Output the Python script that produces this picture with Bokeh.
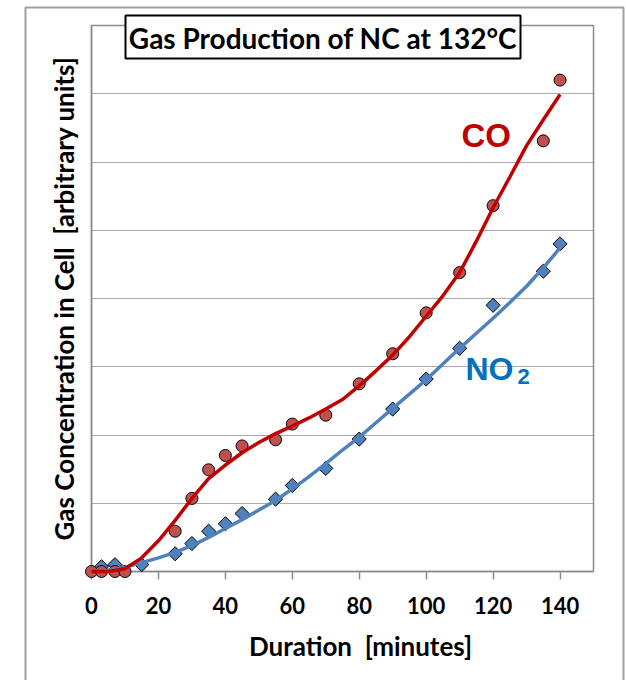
import numpy as np
from bokeh.plotting import figure
from bokeh.models import Label, FixedTicker, Range1d
from bokeh.embed import file_html
from bokeh.resources import INLINE
from bokeh.core.properties import value

# ---- data ----
co_t = [0, 3, 7, 10, 25, 30, 35, 40, 45, 55, 60, 70, 80, 90, 100, 110, 120, 135, 140]
co_v = [0, 0, 0, 0, 0.59, 1.07, 1.49, 1.70, 1.84, 1.93, 2.16, 2.29, 2.75, 3.19, 3.79, 4.38, 5.36, 6.31, 7.20]

no2_t = [3, 7, 15, 25, 30, 35, 40, 45, 55, 60, 70, 80, 90, 100, 110, 120, 135, 140]
no2_v = [0.07, 0.10, 0.10, 0.26, 0.41, 0.59, 0.70, 0.85, 1.06, 1.26, 1.51, 1.94, 2.38, 2.82, 3.27, 3.90, 4.40, 4.80]

fit_t = [0, 5, 10, 15, 20, 25, 30, 35, 40, 45, 50, 55, 60, 65, 70, 75, 80, 85, 90, 95,
         100, 105, 110, 115, 120, 125, 130, 135, 140]
co_fit = [0.0, 0.0, 0.04, 0.20, 0.45, 0.75, 1.07, 1.36, 1.56, 1.74, 1.89, 2.02, 2.13, 2.25, 2.38,
          2.52, 2.72, 2.94, 3.17, 3.44, 3.74, 4.04, 4.38, 4.84, 5.33, 5.78, 6.24, 6.62, 6.99]
no2_fit = [0.0, 0.02, 0.06, 0.13, 0.20, 0.28, 0.38, 0.50, 0.63, 0.76, 0.90, 1.04, 1.21, 1.39, 1.58,
           1.78, 1.97, 2.18, 2.39, 2.60, 2.81, 3.04, 3.27, 3.49, 3.71, 3.94, 4.18, 4.45, 4.74]

x_ticks = [0, 20, 40, 60, 80, 100, 120, 140]
y_grid = [1, 2, 3, 4, 5, 6, 7]

title_text = "Gas Production of NC at 132°C"
x_label = "Duration \u00a0[minutes]"
y_label = "Gas Concentration in Cell \u00a0[arbitrary units]"

# ---- layout geometry (pixels) ----
W, H = 626, 680
FL, FR, FT, FB = 91, 593, 25, 571
X0, X1, Y0, Y1 = 0, 150, 0, 8


def sx(px):
    return X0 + (px - FL) * (X1 - X0) / (FR - FL)


def sy(py):
    return Y0 + (FB - py) * (Y1 - Y0) / (FB - FT)


p = figure(width=W, height=H, output_backend="svg", toolbar_location=None,
           x_range=Range1d(X0, X1), y_range=Range1d(Y0, Y1),
           min_border_left=FL, min_border_right=W - FR, min_border_top=FT, min_border_bottom=H - FB)
p.background_fill_color = "white"
p.border_fill_color = "white"
p.outline_line_color = None

p.xgrid.visible = False
p.yaxis.ticker = FixedTicker(ticks=[])
p.ygrid.ticker = FixedTicker(ticks=y_grid)
p.ygrid.grid_line_color = "#ababab"
p.ygrid.grid_line_width = 1

# y axis: only the title
p.yaxis.axis_label = y_label
p.yaxis.axis_label_text_font = "Lato"
p.yaxis.axis_label_text_font_style = "bold"
p.yaxis.axis_label_text_font_size = "26px"
p.yaxis.axis_label_text_color = "black"
p.yaxis.axis_label_standoff = 12
p.yaxis.major_tick_line_color = None
p.yaxis.minor_tick_line_color = None
p.yaxis.axis_line_color = "#8c8c8c"
p.yaxis.axis_line_width = 1.5

p.xaxis.ticker = FixedTicker(ticks=x_ticks)
p.xaxis.major_label_text_font = "Lato"
p.xaxis.major_label_text_font_style = "bold"
p.xaxis.major_label_text_font_size = "22px"
p.xaxis.major_label_text_color = "black"
p.xaxis.major_tick_out = 8
p.xaxis.major_tick_in = 0
p.xaxis.minor_tick_line_color = None
p.xaxis.axis_line_color = "#8c8c8c"
p.xaxis.axis_line_width = 1.5
p.xaxis.major_tick_line_color = "#8c8c8c"
p.xaxis.major_tick_line_width = 1.5
p.xaxis.major_label_standoff = 17

ann = []
# outer chart border
ann.append(p.quad(left=[sx(25)], right=[sx(623)], top=[sy(7)], bottom=[sy(H + 10)],
                  fill_alpha=0, line_color="#a0a0a0", line_width=2))
# plot frame
ann.append(p.quad(left=[X0], right=[X1], top=[Y1], bottom=[Y0],
                  fill_alpha=0, line_color="#8c8c8c", line_width=1.5))

# markers
ann.append(p.scatter(no2_t, no2_v, marker="square", angle=np.pi / 4, size=10,
                     fill_color="#4F81BD", line_color="black", line_width=1))
ann.append(p.scatter(co_t, co_v, marker="circle", size=12,
                     fill_color="#C0504D", line_color="black", line_width=1))
ann.append(p.line(fit_t, no2_fit, line_color="#4F81BD", line_width=3.5))
ann.append(p.line(fit_t, co_fit, line_color="#C00000", line_width=3.5))

# title box
ann.append(p.quad(left=[sx(125)], right=[sx(520)], top=[sy(15)], bottom=[sy(58)],
                  fill_color="white", fill_alpha=1, line_color="black", line_width=2))
ann.append(p.text(x=[sx(322.5)], y=[sy(37)], text=[title_text],
                  text_font=value("Lato"), text_font_style="bold", text_font_size="28px",
                  text_color="black", text_align="center", text_baseline="middle"))

# x axis title
ann.append(p.text(x=[sx(360)], y=[sy(645)], text=[x_label],
                  text_font=value("Lato"), text_font_style="bold", text_font_size="26px",
                  text_color="black", text_align="center", text_baseline="middle"))

for r in ann:
    r.level = "annotation"

# series labels
p.add_layout(Label(x=sx(461), y=sy(135), text="CO", text_font="Liberation Sans", text_font_style="bold",
                   text_font_size="33px", text_color="#C00000", text_align="left",
                   text_baseline="alphabetic"))
p.add_layout(Label(x=sx(465), y=sy(368), text="NO", text_font="Liberation Sans", text_font_style="bold",
                   text_font_size="32px", text_color="#0070C0", text_align="left",
                   text_baseline="alphabetic"))
p.add_layout(Label(x=sx(517), y=sy(376), text="2", text_font="Liberation Sans", text_font_style="bold",
                   text_font_size="22px", text_color="#0070C0", text_align="left",
                   text_baseline="alphabetic"))

open("out.html", "w").write(file_html(p, INLINE))
